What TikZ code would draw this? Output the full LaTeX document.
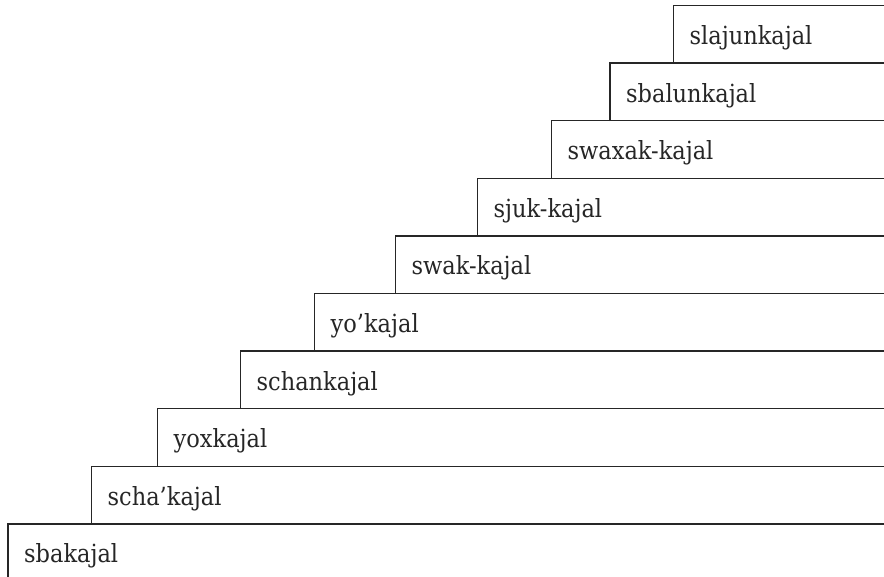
\documentclass[tikz,border=0pt]{standalone}
\usepackage{fontspec}
\setmainfont{DejaVu Serif Condensed}
\begin{document}
\begin{tikzpicture}[x=1pt,y=1pt,
  stair/.style={draw=none, inner sep=0pt, anchor=north west, minimum height=57.6pt},
  stairline/.style={draw=black!85, line width=1.4pt},
  lbl/.style={inner sep=0pt, anchor=base west, font=\fontsize{25}{30}\selectfont, text=black!85}]
\useasboundingbox (0,0) rectangle (884,577);
\foreach \i/\x/\t in {0/8/sbakajal, 1/91.5/scha’kajal, 2/157.5/yoxkajal, 3/240.5/schankajal, 4/314.5/yo’kajal, 5/395.5/swak-kajal, 6/477.5/sjuk-kajal, 7/551.5/swaxak-kajal, 8/610/sbalunkajal, 9/673.5/slajunkajal}{
  \pgfmathsetmacro{\ytop}{577-524+57.6*\i}
  \pgfmathsetmacro{\w}{884-\x+2}
  \node[stair, minimum width=\w pt] (s\i) at (\x,\ytop) {};
  \draw[stairline] (s\i.south west) |- (s\i.north east);
  \node[lbl] (l\i) at ([shift={(16,-39)}]s\i.north west) {\t};
}
\end{tikzpicture}
\end{document}
